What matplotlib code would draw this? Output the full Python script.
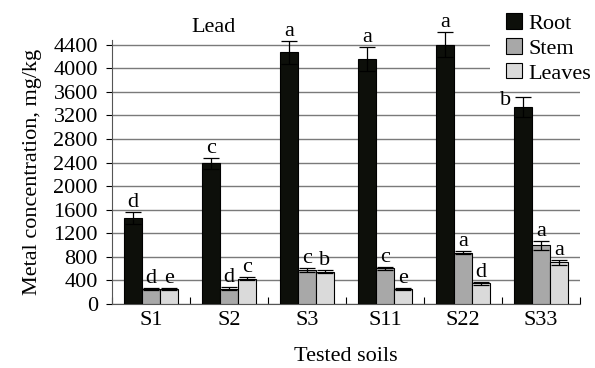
import numpy as np
import matplotlib.pyplot as plt
from matplotlib.patches import Rectangle

# data (mg/kg)
soils = ["S1", "S2", "S3", "S11", "S22", "S33"]
root = [1460, 2390, 4270, 4155, 4405, 3340]
root_err = [100, 95, 200, 200, 205, 170]
stem = [250, 260, 577, 605, 870, 995]
stem_err = [20, 25, 30, 20, 30, 75]
leaves = [250, 430, 550, 250, 350, 705]
leaves_err = [20, 30, 25, 20, 25, 50]
root_lab = ["d", "c", "a", "a", "a", "b"]
stem_lab = ["d", "d", "c", "c", "a", "a"]
leaves_lab = ["e", "c", "b", "e", "d", "a"]

plt.rcParams['font.family'] = ['Liberation Serif', 'DejaVu Serif']
fs = 16

fig = plt.figure(figsize=(5.95, 3.68), dpi=100)
ax = fig.add_axes([0.188, 0.174, 0.787, 0.717])

x = np.arange(len(soils))
w = 0.23
series = [(root, root_err, root_lab, "#0d0f0a", "Root"),
          (stem, stem_err, stem_lab, "#a8a8a8", "Stem"),
          (leaves, leaves_err, leaves_lab, "#dadada", "Leaves")]

for k, (vals, err, labs, col, name) in enumerate(series):
    pos = x + (k - 1) * w
    ax.bar(pos, vals, w, color=col, edgecolor="black", linewidth=0.8,
           label=name, zorder=3)
    ax.errorbar(pos, vals, yerr=err, fmt="none", ecolor="black",
                elinewidth=0.9, capsize=6, capthick=0.9, zorder=4,
                clip_on=False)
    for i, (p, v, e, t) in enumerate(zip(pos, vals, err, labs)):
        if k == 0 and i == len(soils) - 1:
            # last root letter sits left of its bar (legend is above it)
            ax.annotate(t, (p - w / 2, v + e), xytext=(-2, -2),
                        textcoords="offset points", ha="right", va="center",
                        fontsize=fs, annotation_clip=False)
        else:
            ax.annotate(t, (p, v + e), xytext=(0, 0), textcoords="offset points",
                        ha="center", va="bottom", fontsize=fs,
                        annotation_clip=False)

ax.set_xlim(-0.5, len(soils) - 0.5)
ax.set_ylim(0, 4480)
ax.set_yticks(np.arange(0, 4401, 400))
ax.yaxis.grid(True, color="#7a7a7a", linewidth=1.0, zorder=0)
ax.set_axisbelow(True)

ax.set_xticks(x)
ax.set_xticklabels(soils)
ax.set_xticks(np.arange(-0.5, len(soils)), minor=True)
ax.tick_params(axis="x", which="major", length=0, labelsize=fs, pad=5)
ax.tick_params(axis="x", which="minor", direction="in", length=5, width=0.8)
ax.tick_params(axis="y", direction="out", length=4, width=0.8, labelsize=fs, pad=6)

for s in ["top", "right"]:
    ax.spines[s].set_visible(False)
ax.spines["left"].set_color("#555555")
ax.spines["bottom"].set_color("#555555")

ax.set_ylabel("Metal concentration, mg/kg", fontsize=fs, labelpad=8)
ax.set_xlabel("Tested soils", fontsize=fs, labelpad=12)
fig.text(213 / 595, 1 - 28 / 368, "Lead", fontsize=fs, ha="center", va="center")

# white block behind the legend hides the top grid lines there
fig.patches.append(Rectangle((490 / 595, 1 - 82 / 368), 105 / 595, 82 / 368,
                             transform=fig.transFigure, facecolor="white",
                             edgecolor="none", zorder=1))

fig.legend(loc="upper left", bbox_to_anchor=(502 / 595, 1 - 9 / 368),
           fontsize=fs, frameon=False, borderaxespad=0, borderpad=0.2,
           handlelength=0.68, handleheight=0.68, handletextpad=0.3,
           labelspacing=0.2)

fig.savefig("out.png", dpi=100)
